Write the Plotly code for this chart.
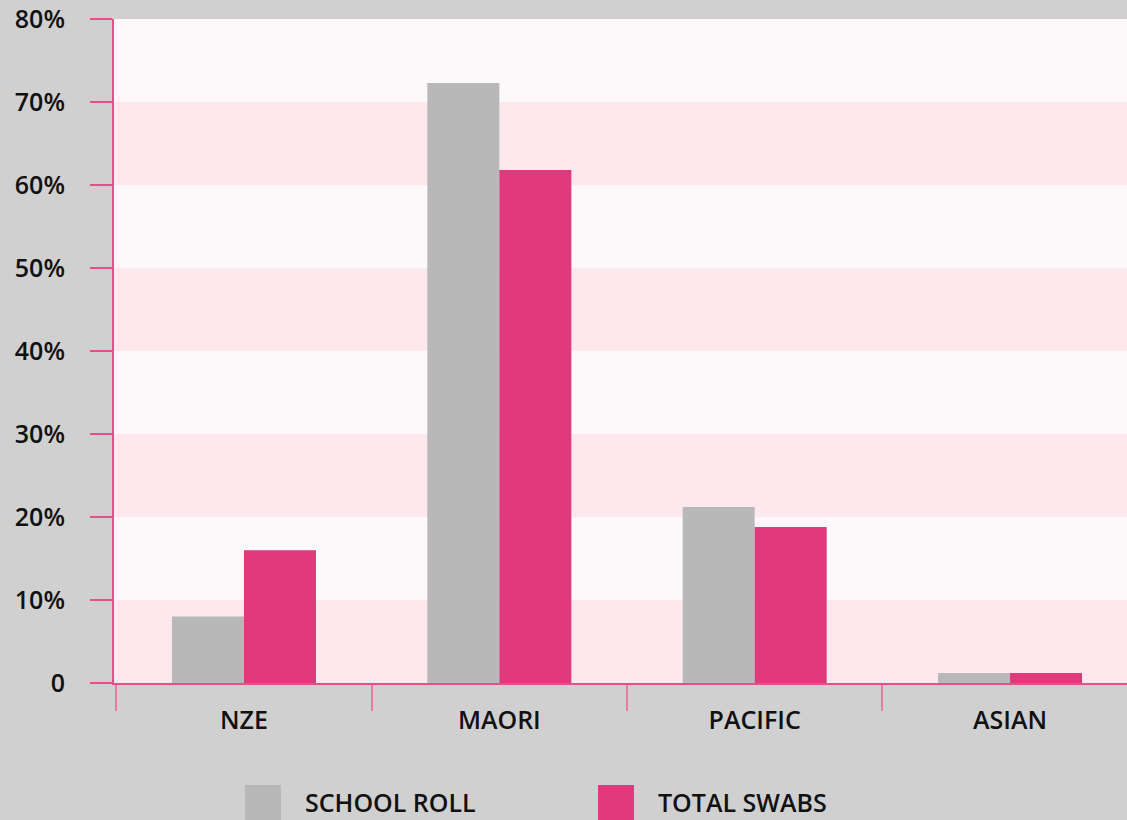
import plotly.graph_objects as go

categories = ["NZE", "MAORI", "PACIFIC", "ASIAN"]
school_roll = [8.0, 72.3, 21.2, 1.2]
total_swabs = [16.0, 61.8, 18.8, 1.2]
series_names = ["SCHOOL ROLL", "TOTAL SWABS"]
y_ticks = [0, 10, 20, 30, 40, 50, 60, 70, 80]
y_tick_labels = ["0", "10%", "20%", "30%", "40%", "50%", "60%", "70%", "80%"]

GRAY = "#b8b8b8"
PINK = "#e03a7c"
AXIS = "#e5508a"
FONT = dict(family="Open Sans", size=25, color="#111111", weight=600)

W, H = 1127, 820
L, R, T, B = 114, 0, 19, 137
PW, PH = W - L - R, H - T - B


def px_x(px):
    return (px - L) / PW


def px_y(py):
    return (H - B - py) / PH


fig = go.Figure()
fig.add_bar(x=categories, y=school_roll, name=series_names[0],
            marker=dict(color=GRAY, line=dict(width=0)), showlegend=False)
fig.add_bar(x=categories, y=total_swabs, name=series_names[1],
            marker=dict(color=PINK, line=dict(width=0)), showlegend=False)

# alternating background bands
for i in range(len(y_ticks) - 1):
    fig.add_shape(type="rect", xref="paper", yref="y", x0=0, x1=1,
                  y0=y_ticks[i], y1=y_ticks[i + 1], layer="below",
                  line=dict(width=0),
                  fillcolor="#fce8ed" if i % 2 == 0 else "#fdf8f9")

# manual legend
legend_items = [(series_names[0], GRAY, 245), (series_names[1], PINK, 598)]
for name, col, lx in legend_items:
    fig.add_shape(type="rect", xref="paper", yref="paper",
                  x0=px_x(lx), x1=px_x(lx + 36),
                  y0=px_y(840), y1=px_y(785),
                  line=dict(width=0), fillcolor=col)
    fig.add_annotation(xref="paper", yref="paper", x=px_x(lx + 58),
                       y=px_y(802), text=name, showarrow=False,
                       xanchor="left", yanchor="middle", font=FONT)

fig.update_layout(
    width=W, height=H,
    margin=dict(l=L, r=R, t=T, b=B, pad=0),
    paper_bgcolor="#d0d0d0", plot_bgcolor="#fdf8f9",
    barmode="group", bargap=0.436, bargroupgap=0,
    font=FONT,
)
fig.update_xaxes(range=[-0.509, 3.458], showgrid=False, showline=True,
                 linecolor=AXIS, linewidth=2, ticks="outside",
                 tickson="boundaries", ticklen=26, tickcolor="#e878a4",
                 tickwidth=1.5, tickfont=FONT, ticklabelstandoff=14)
fig.update_yaxes(range=[0, 80], tickvals=y_ticks, ticktext=y_tick_labels,
                 showgrid=False, zeroline=False, showline=True,
                 linecolor=AXIS, linewidth=2, ticks="outside", ticklen=22,
                 tickcolor=AXIS, tickwidth=2, tickfont=FONT,
                 ticklabelstandoff=20)

fig.write_html("out.html", config={"displayModeBar": False},
               post_script="document.body.style.margin='0';"
                           "document.body.style.overflow='hidden';")
